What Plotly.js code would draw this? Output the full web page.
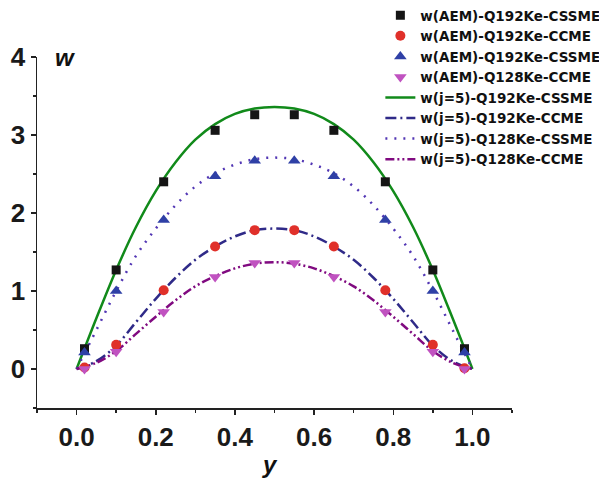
<!DOCTYPE html>
<html>
<head>
<meta charset="utf-8">
<script src="https://cdn.plot.ly/plotly-3.0.1.min.js"></script>
<style>html,body{margin:0;padding:0;background:#fff;}#chart{width:599px;height:478px;}</style>
</head>
<body>
<div id="chart"></div>
<script>
// AEM sample points
const xAEM = [0.02, 0.1, 0.22, 0.35, 0.45, 0.55, 0.65, 0.78, 0.9, 0.98];
const aemQ192CSSME = [0.26, 1.27, 2.40, 3.06, 3.26, 3.26, 3.06, 2.40, 1.27, 0.26];
const aemQ192CCME  = [0.02, 0.31, 1.01, 1.57, 1.78, 1.78, 1.57, 1.01, 0.31, 0.01];
const aemQ192CSSME2 = [0.21, 1.00, 1.91, 2.47, 2.67, 2.67, 2.47, 1.91, 1.00, 0.21];
const aemQ128CCME  = [0.00, 0.22, 0.73, 1.18, 1.36, 1.36, 1.18, 0.73, 0.22, 0.00];

// j=5 curves
const xLine = [0,0.05,0.1,0.15,0.2,0.25,0.3,0.35,0.4,0.45,0.5,0.55,0.6,0.65,0.7,0.75,0.8,0.85,0.9,0.95,1];
const jQ192CSSME = [0,0.65,1.27,1.82,2.28,2.65,2.94,3.14,3.27,3.34,3.36,3.34,3.27,3.14,2.94,2.65,2.28,1.82,1.27,0.65,0];
const jQ192CCME  = [0,0.10,0.30,0.60,0.90,1.17,1.40,1.57,1.70,1.78,1.80,1.78,1.70,1.57,1.40,1.17,0.90,0.60,0.30,0.10,0];
const jQ128CSSME = [0,0.50,1.00,1.45,1.80,2.10,2.34,2.51,2.62,2.69,2.71,2.69,2.62,2.51,2.34,2.10,1.80,1.45,1.00,0.50,0];
const jQ128CCME  = [0,0.08,0.23,0.45,0.67,0.88,1.06,1.19,1.29,1.35,1.37,1.35,1.29,1.19,1.06,0.88,0.67,0.45,0.23,0.08,0];

const names = ["w(AEM)-Q192Ke-CSSME","w(AEM)-Q192Ke-CCME","w(AEM)-Q192Ke-CSSME","w(AEM)-Q128Ke-CCME",
  "w(j=5)-Q192Ke-CSSME","w(j=5)-Q192Ke-CCME","w(j=5)-Q128Ke-CSSME","w(j=5)-Q128Ke-CCME"];

const traces = [
  {x:xLine, y:jQ192CSSME, mode:'lines', name:names[4], line:{color:'#118a1a', width:2.5, shape:'spline'}, legendrank:5},
  {x:xLine, y:jQ128CSSME, mode:'lines', name:names[6], line:{color:'#5236b4', width:2.5, dash:'2px,7px', shape:'spline'}, legendrank:7},
  {x:xLine, y:jQ192CCME, mode:'lines', name:names[5], line:{color:'#2f2a88', width:2.5, dash:'11px,4px,2px,4px', shape:'spline'}, legendrank:6},
  {x:xLine, y:jQ128CCME, mode:'lines', name:names[7], line:{color:'#800a80', width:2.5, dash:'9px,3px,2px,3px,2px,3px', shape:'spline'}, legendrank:8},
  {x:xAEM, y:aemQ192CSSME, mode:'markers', name:names[0], marker:{symbol:'square', color:'#151515', size:9}, legendrank:1},
  {x:xAEM, y:aemQ192CCME, mode:'markers', name:names[1], marker:{symbol:'circle', color:'#e0302a', size:10}, legendrank:2},
  {x:xAEM, y:aemQ192CSSME2, mode:'markers', name:names[2], marker:{symbol:'triangle-up', color:'#2f40a6', size:11}, legendrank:3},
  {x:xAEM, y:aemQ128CCME, mode:'markers', name:names[3], marker:{symbol:'triangle-down', color:'#c052c0', size:11}, legendrank:4}
];

const axFont = {family:'Arial, Liberation Sans, sans-serif', size:26, color:'#1a1a1a', weight:'bold'};
const layout = {
  width:599, height:478,
  margin:{l:37, r:87, t:57, b:70, autoexpand:false},
  paper_bgcolor:'#fff', plot_bgcolor:'#fff',
  showlegend:true,
  legend:{xref:'container', yref:'container', x:0.635, y:1.0, xanchor:'left', yanchor:'top', bgcolor:'rgba(0,0,0,0)',
    font:{family:'DejaVu Sans, sans-serif', size:13.5, color:'#111', weight:'bold'},
    tracegroupgap:0, itemwidth:30},
  xaxis:{range:[-0.1,1.1], tickvals:[0,0.2,0.4,0.6,0.8,1.0], ticktext:['0.0','0.2','0.4','0.6','0.8','1.0'],
    showgrid:false, zeroline:false, showline:true, linecolor:'#222', linewidth:1.5,
    ticks:'outside', ticklen:5, tickwidth:1.5, tickcolor:'#222',
    minor:{tickvals:[-0.1,0.1,0.3,0.5,0.7,0.9,1.1], ticks:'outside', ticklen:3, tickwidth:1.5, tickcolor:'#222'},
    tickfont:axFont},
  yaxis:{range:[-0.5,4], tickvals:[0,1,2,3,4], showgrid:false, zeroline:false, showline:true, linecolor:'#222', linewidth:1.5,
    ticks:'outside', ticklen:5, tickwidth:1.5, tickcolor:'#222',
    minor:{tickvals:[-0.5,0.5,1.5,2.5,3.5], ticks:'outside', ticklen:3, tickwidth:1.5, tickcolor:'#222'},
    tickfont:axFont},
  annotations:[
    {text:'w', xref:'paper', yref:'paper', x:0.058, y:1.0, xanchor:'center', yanchor:'middle', showarrow:false,
     font:{family:'Arial, Liberation Sans, sans-serif', size:24, color:'#111', weight:'bold', style:'italic'}},
    {text:'y', xref:'paper', yref:'paper', x:0.49, y:-0.16, xanchor:'center', yanchor:'middle', showarrow:false,
     font:{family:'Arial, Liberation Sans, sans-serif', size:24, color:'#111', weight:'bold', style:'italic'}}
  ]
};
Plotly.newPlot('chart', traces, layout, {displayModeBar:false, staticPlot:true});
</script>
</body>
</html>
